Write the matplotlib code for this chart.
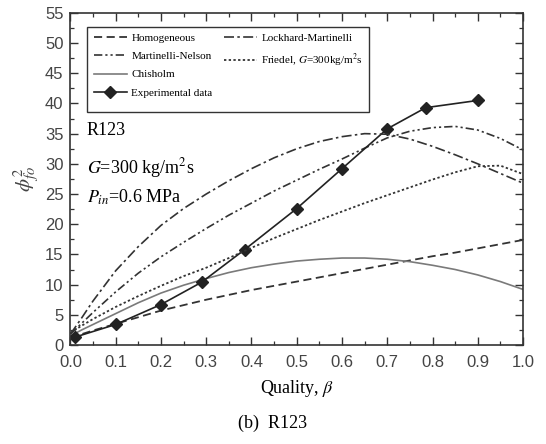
import numpy as np
import matplotlib
matplotlib.use("Agg")
import matplotlib.pyplot as plt
from matplotlib.lines import Line2D
from matplotlib.ticker import MultipleLocator

plt.rcParams["mathtext.fontset"] = "stix"

# ============================
#  DATA
# ============================
quality = [0.0, 0.025, 0.05, 0.1, 0.15, 0.2, 0.25, 0.3, 0.35, 0.4, 0.45, 0.5,
           0.55, 0.6, 0.65, 0.7, 0.75, 0.8, 0.85, 0.9, 0.95, 1.0]

homogeneous = [1.2, 1.8, 2.4, 3.5, 4.6, 5.7, 6.6, 7.5, 8.3, 9.1, 9.8, 10.5,
               11.2, 11.9, 12.6, 13.3, 14.0, 14.7, 15.3, 16.0, 16.7, 17.4]
lockhart = [1.8, 4.5, 7.3, 12.3, 16.3, 19.8, 22.6, 25.0, 27.2, 29.2, 31.0, 32.5,
            33.7, 34.5, 35.0, 34.9, 34.1, 32.9, 31.5, 30.0, 28.4, 26.8]
martinelli_nelson = [1.8, 3.6, 5.4, 8.8, 11.9, 14.6, 17.0, 19.3, 21.5, 23.5, 25.5, 27.3,
                     29.1, 30.8, 32.6, 34.3, 35.4, 36.0, 36.2, 35.6, 34.2, 32.3]
friedel = [2.0, 3.2, 4.3, 6.3, 8.1, 9.8, 11.4, 12.8, 14.4, 16.1, 17.7, 19.2,
           20.7, 22.1, 23.5, 24.8, 26.1, 27.4, 28.6, 29.6, 29.7, 28.3]
chisholm = [1.5, 2.5, 3.4, 5.2, 7.0, 8.6, 9.9, 11.0, 12.0, 12.8, 13.4, 13.9,
            14.2, 14.4, 14.4, 14.2, 13.8, 13.2, 12.5, 11.6, 10.5, 9.2]

exp_x = [0.01, 0.1, 0.2, 0.29, 0.385, 0.5, 0.6, 0.7, 0.785, 0.9]
exp_y = [1.3, 3.4, 6.7, 10.4, 15.8, 22.6, 29.2, 35.8, 39.3, 40.5]

SERIF = "Liberation Serif"
SANS = "Liberation Sans"
LINE = "#333333"

# ============================
#  FIGURE
# ============================
fig = plt.figure(figsize=(5.46, 4.44), dpi=100)
ax = fig.add_axes([0.129, 0.223, 0.829, 0.748])

ax.plot(quality, homogeneous, color=LINE, lw=1.3, dashes=(4.5, 2.5), label="Homogeneous")
ax.plot(quality, martinelli_nelson, color=LINE, lw=1.2,
        dashes=(5, 1.8, 1.3, 1.8, 1.3, 1.8), label="Martinelli-Nelson")
ax.plot(quality, chisholm, color="#7a7a7a", lw=1.2, label="Chisholm")
ax.plot(exp_x, exp_y, color="#222222", lw=1.2, marker="D", ms=6,
        mfc="#222222", mec="#222222", label="Experimental data")
ax.plot(quality, lockhart, color=LINE, lw=1.2, dashes=(6, 2, 1.5, 2),
        label="Lockhard-Martinelli")
ax.plot(quality, friedel, color=LINE, lw=1.3, dashes=(1.3, 1.3),
        label="Friedel, $G$=300kg/m$^2$s")

ax.set_xlim(0, 1.0)
ax.set_ylim(0, 55)
ax.xaxis.set_major_locator(MultipleLocator(0.1))
ax.xaxis.set_minor_locator(MultipleLocator(0.05))
ax.yaxis.set_major_locator(MultipleLocator(5))
ax.yaxis.set_minor_locator(MultipleLocator(2.5))
ax.tick_params(which="both", direction="in", top=True, right=True, color="#333333")
ax.tick_params(which="major", length=6, width=1.0)
ax.tick_params(which="minor", length=3, width=0.9)
ax.tick_params(axis="x", which="major", pad=7)
ax.tick_params(axis="y", which="major", pad=5)
ax.set_xticklabels([f"{v:.1f}" for v in ax.get_xticks()])
for lab in ax.get_xticklabels() + ax.get_yticklabels():
    lab.set_fontfamily(SANS)
    lab.set_fontsize(12)
    lab.set_color("#444444")
for sp in ax.spines.values():
    sp.set_linewidth(1.2)
    sp.set_color("#333333")

ax.set_xlabel("Quality, $\\beta$", fontfamily=SERIF, fontsize=13, labelpad=6)
ax.set_ylabel("$\\phi^2_{fo}$", fontsize=15, color="#444444", labelpad=2)

# annotation text
ax.text(0.036, 35.6, "R123", fontfamily=SERIF, fontsize=13, va="center")
ax.text(0.036, 29.3, "$G$=300 kg/m$^2$s", fontfamily=SERIF, fontsize=13, va="center")
ax.text(0.036, 24.5, "$P_{in}$=0.6 MPa", fontfamily=SERIF, fontsize=13, va="center")

# legend: 4 entries left column, 2 right
handles, labels = ax.get_legend_handles_labels()
blank = Line2D([], [], color="none")
handles = handles + [blank, blank]
labels = labels + ["", ""]
leg = ax.legend(handles, labels, ncol=2, loc="upper left",
                bbox_to_anchor=(0.024, 0.975), fancybox=False, framealpha=1,
                edgecolor="#333333", prop={"family": SERIF, "size": 8},
                handlelength=3.0, labelspacing=0.75, columnspacing=1.0,
                handletextpad=0.4, borderpad=0.6, borderaxespad=0.5)
leg.get_frame().set_linewidth(1.0)

fig.text(0.5, 0.047, "(b)  R123", fontfamily=SERIF, fontsize=13, ha="center", va="center")

plt.savefig("out.png", dpi=100)
